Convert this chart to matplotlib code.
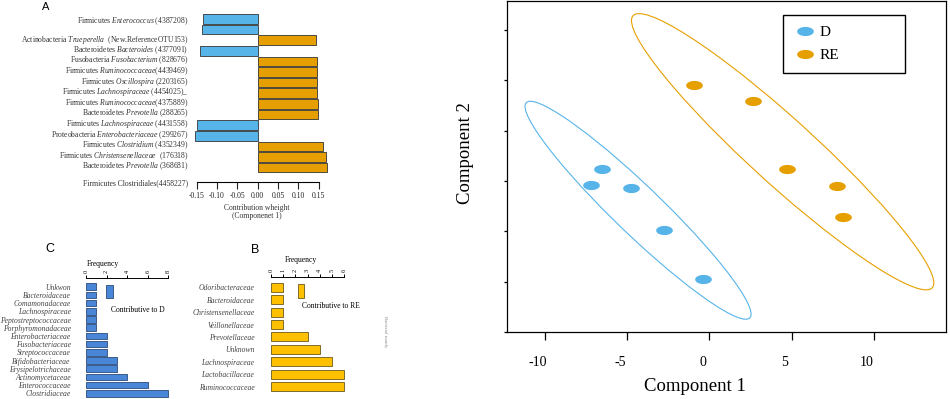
import numpy as np
import matplotlib
matplotlib.use("Agg")
import matplotlib.pyplot as plt
import matplotlib.path as mpath
from matplotlib.patches import Ellipse, Rectangle
from matplotlib.transforms import ScaledTranslation

plt.rcParams['font.family'] = ['Liberation Serif', 'DejaVu Serif']
plt.rcParams['mathtext.fontset'] = 'custom'
plt.rcParams['mathtext.rm'] = 'Liberation Serif'
plt.rcParams['mathtext.it'] = 'Liberation Serif:italic'

# ---------------- data ----------------
taxa_A = [
    "Firmicutes $\\it{Enterococcus}$ (4387208)",
    "Actinobacteria $\\it{Trueperella}$  (New.ReferenceOTU153)",
    "Bacteroidetes $\\it{Bacteroides}$ (4377091)",
    "Fusobacteria $\\it{Fusobacterium}$ (828676)",
    "Firmicutes $\\it{Ruminococcaceae}$(4439469)",
    "Firmicutes $\\it{Oscillospira}$ (2203165)",
    "Firmicutes $\\it{Lachnospiraceae}$ (4454025)_",
    "Firmicutes $\\it{Ruminococcaceae}$(4375889)",
    "Bacteroidetes $\\it{Prevotella}$ (288265)",
    "Firmicutes $\\it{Lachnospiraceae}$ (4431558)",
    "Proteobacteria $\\it{Enterobacteriaceae}$ (299267)",
    "Firmicutes $\\it{Clostridium}$ (4352349)",
    "Firmicutes $\\it{Christensenellaceae}$  (176318)",
    "Bacteroidetes $\\it{Prevotella}$ (368681)",
    "Firmicutes Clostridiales(4458227)",
]
weights_A = [-0.134, -0.136, 0.143, -0.142, 0.145, 0.145, 0.145, 0.147,
             0.149, 0.149, -0.150, -0.154, 0.160, 0.168, 0.170]
ticks_A = [-0.15, -0.10, -0.05, 0.00, 0.05, 0.10, 0.15]

families_C = ["Unkwon", "Bacteroidaceae", "Comamonadaceae", "Lachnospiraceae",
              "Peptostreptococcaceae", "Porphyromonadaceae", "Enterobacteriaceae",
              "Fusobacteriaceae", "Streptococcaceae", "Bifidobacteriaceae",
              "Erysipelotrichaceae", "Actinomycetaceae", "Enterococcaceae",
              "Clostridiaceae"]
freq_C = [1, 1, 1, 1, 1, 1, 2, 2, 2, 3, 3, 4, 6, 8]
ticks_C = [0, 2, 4, 6, 8]

families_B = ["Odoribacteraceae", "Bacteroidaceae", "Christensenellaceae",
              "Veillonellaceae", "Prevotellaceae", "Unknown", "Lachnospiraceae",
              "Lactobacillaceae", "Ruminococcaceae"]
freq_B = [1, 1, 1, 1, 3, 4, 5, 6, 6]
ticks_B = [0, 1, 2, 3, 4, 5, 6]

groups = ["D", "RE"]
comp1_D = [-6.55, -7.22, -4.79, -2.77, -0.38]
comp2_D = [-0.77, -1.08, -1.14, -1.97, -2.95]
comp1_RE = [-0.94, 2.66, 4.69, 7.73, 8.10]
comp2_RE = [0.90, 0.59, -0.77, -1.11, -1.71]
ticks_S = [-10, -5, 0, 5, 10]

# ---------------- colors ----------------
BLUE = "#56B4E9"
ORANGE = "#E69F00"
C_BLUE = "#4A86D8"
B_GOLD = "#FFC000"

W, H = 950, 399
fig = plt.figure(figsize=(W / 100, H / 100), dpi=100)


def pax(l, t, r, b):
    return fig.add_axes([l / W, 1 - b / H, (r - l) / W, (b - t) / H])


def ftext(x, y, s, **kw):
    return fig.text(x / W, 1 - y / H, s, **kw)


# ---------------- Panel A ----------------
axA = pax(190, 10, 330, 182)
rows_A = np.arange(len(weights_A))
colors_A = [BLUE if w < 0 else ORANGE for w in weights_A]
axA.barh(rows_A, weights_A, height=0.9, color=colors_A, edgecolor="#333333", linewidth=0.6)
axA.set_xlim(-0.1665, 0.1778)
axA.set_ylim(15.163, -0.837)
for s in ["left", "top", "right"]:
    axA.spines[s].set_visible(False)
axA.spines["bottom"].set_bounds(-0.15, 0.15)
axA.spines["bottom"].set_linewidth(0.8)
axA.set_xticks(ticks_A, [f"{t:.2f}" for t in ticks_A])
axA.tick_params(axis="x", length=5, width=0.8, pad=2, labelsize=5.5, colors="#222222")
label_rows_A = np.r_[0, 1.8, 2.8, np.arange(3, 14) + 0.72, 15.35]
axA.set_yticks(label_rows_A, taxa_A)
axA.tick_params(axis="y", length=0, pad=1, labelsize=5.5, labelcolor="#333333")
ftext(46, 7, "A", fontsize=8, family="Liberation Sans", ha="center", va="center")
ftext(256.7, 208, "Contribution wheight", fontsize=5.5, ha="center", va="center", color="#333333")
ftext(256.7, 215.5, "(Componenet 1)", fontsize=5.5, ha="center", va="center", color="#333333")

# ---------------- Panel C ----------------
axC = pax(86, 277.7, 172, 398.5)
rows_C = np.arange(len(freq_C))
axC.barh(rows_C, freq_C, height=0.8, color=C_BLUE, edgecolor="#2B4A78", linewidth=0.6)
axC.set_xlim(0, 8.35)
axC.set_ylim(13.63, -1.10)
for s in ["left", "bottom", "right"]:
    axC.spines[s].set_visible(False)
axC.spines["top"].set_bounds(0, 8)
axC.spines["top"].set_linewidth(0.7)
axC.xaxis.tick_top()
axC.set_xticks(ticks_C, [str(t) for t in ticks_C])
axC.tick_params(axis="x", length=2.5, width=0.7, pad=1, labelsize=4.5, labelrotation=90)
axC.set_yticks(rows_C, families_C)
axC.tick_params(axis="y", length=0, pad=11, labelsize=5.5, labelcolor="#444444")
for lab in axC.get_yticklabels():
    lab.set_style("italic")
ftext(50, 249, "C", fontsize=9, family="Liberation Sans", ha="center", va="center")
ftext(103, 264.3, "Frequency", fontsize=5.5, ha="center", va="center")
fig.patches.append(Rectangle((106 / W, 1 - 298.3 / H), 7.3 / W, 13.3 / H,
                             transform=fig.transFigure, facecolor=C_BLUE,
                             edgecolor="#2B4A78", linewidth=0.6))
ftext(138, 310, "Contributive to D", fontsize=5.5, ha="center", va="center")

# ---------------- Panel B ----------------
axB = pax(271, 276.7, 348, 392)
rows_B = np.arange(len(freq_B))
axB.barh(rows_B, freq_B, height=0.73, color=B_GOLD, edgecolor="#6B5A1A", linewidth=0.6)
axB.set_xlim(0, 6.31)
axB.set_ylim(8.44, -0.855)
for s in ["left", "bottom", "right"]:
    axB.spines[s].set_visible(False)
axB.spines["top"].set_bounds(0, 6)
axB.spines["top"].set_linewidth(0.7)
axB.xaxis.tick_top()
axB.set_xticks(ticks_B, [str(t) for t in ticks_B])
axB.tick_params(axis="x", length=2.5, width=0.7, pad=1, labelsize=4.5, labelrotation=90)
axB.set_yticks(rows_B, families_B)
axB.tick_params(axis="y", length=0, pad=12, labelsize=5.5, labelcolor="#444444")
for lab in axB.get_yticklabels():
    lab.set_style("italic")
ftext(255, 250, "B", fontsize=9, family="Liberation Sans", ha="center", va="center")
ftext(301, 260, "Frequency", fontsize=5.5, ha="center", va="center")
fig.patches.append(Rectangle((297.7 / W, 1 - 297.7 / H), 6.6 / W, 13.7 / H,
                             transform=fig.transFigure, facecolor=B_GOLD,
                             edgecolor="#6B5A1A", linewidth=0.6))
ftext(331, 306, "Contributive to RE", fontsize=5.5, ha="center", va="center")
ftext(385, 332, "Bacterial family", fontsize=3.5, ha="center", va="center",
      rotation=270, color="#888888")

# ---------------- Scatter (PLS-DA) ----------------
axS = pax(507, 1, 946, 332)
theta = np.linspace(0, 2 * np.pi, 60)
oval = mpath.Path(np.c_[np.cos(theta), 0.55 * np.sin(theta)])

handles = []
for name, xs, ys, col in [("D", comp1_D, comp2_D, BLUE), ("RE", comp1_RE, comp2_RE, ORANGE)]:
    xs = np.asarray(xs); ys = np.asarray(ys)
    cov = np.cov(xs, ys)
    vals, vecs = np.linalg.eigh(cov)
    order = vals.argsort()[::-1]
    vals, vecs = vals[order], vecs[:, order]
    ang = np.degrees(np.arctan2(vecs[1, 0], vecs[0, 0]))
    k = np.sqrt(5.991)
    axS.add_patch(Ellipse((xs.mean(), ys.mean()), 2 * k * np.sqrt(vals[0]),
                          2 * k * np.sqrt(vals[1]), angle=ang, fill=False,
                          edgecolor=col, linewidth=0.8))
    h, = axS.plot(xs, ys, linestyle="none", marker=oval, markersize=12,
                  color=col, markeredgewidth=0, label=name)
    handles.append(h)

axS.set_xlim(-12.31, 14.38)
axS.set_ylim(-4, 2.574)
axS.set_xticks(ticks_S, [str(t) for t in ticks_S])
axS.set_yticks(np.arange(-4, 3))
axS.set_yticklabels([])
axS.tick_params(axis="x", length=5.8, width=0.9, pad=11.5, labelsize=10)
axS.tick_params(axis="y", length=2, width=0.9)
for s in axS.spines.values():
    s.set_linewidth(0.9)
for lab in axS.get_xticklabels():
    lab.set_transform(lab.get_transform() + ScaledTranslation(-7 / 100, 0, fig.dpi_scale_trans))

leg = axS.legend(handles=handles, loc="upper left",
                 bbox_to_anchor=(0.629, 0.787, 0.277, 0.171), mode="expand",
                 borderaxespad=0, fancybox=False, edgecolor="black",
                 prop={"family": "Liberation Serif", "size": 11},
                 handlelength=1.48, handletextpad=0.2, borderpad=0.68,
                 labelspacing=0.62, framealpha=1)
leg.get_frame().set_linewidth(1.0)

ftext(695, 386.7, "Component 1", fontsize=13.5, ha="center", va="center")
ftext(465, 153, "Component 2", fontsize=13.5, ha="center", va="center", rotation=90)

fig.savefig("out.png", dpi=100)
